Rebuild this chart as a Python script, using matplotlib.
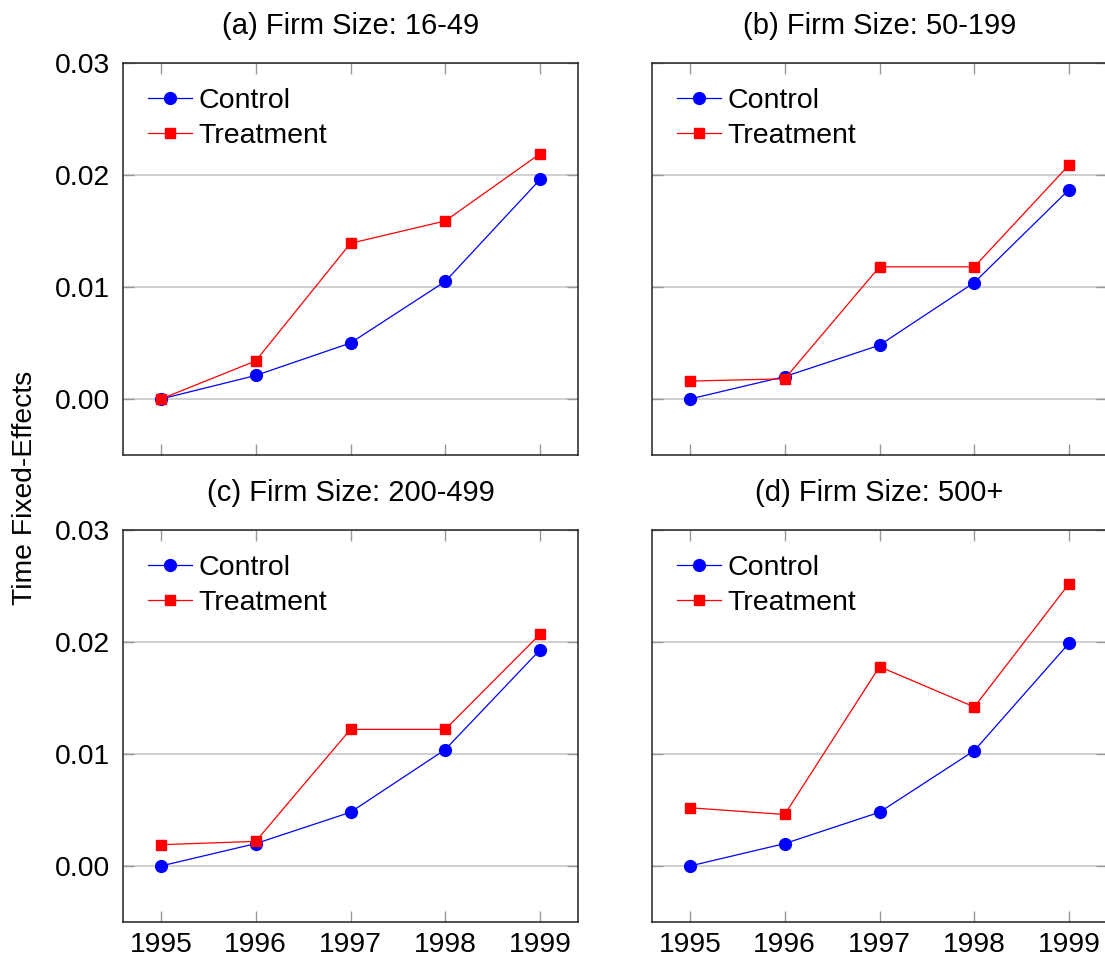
import matplotlib

matplotlib.use("Agg")
import matplotlib.pyplot as plt

plt.rcParams["font.family"] = ["Liberation Sans", "DejaVu Sans"]

years = [1995, 1996, 1997, 1998, 1999]

titles = [
    "(a) Firm Size: 16-49",
    "(b) Firm Size: 50-199",
    "(c) Firm Size: 200-499",
    "(d) Firm Size: 500+",
]

# time fixed effects by firm size group
control_16_49 = [0.0, 0.0021, 0.0050, 0.0105, 0.0196]
treatment_16_49 = [0.0, 0.0034, 0.0139, 0.0159, 0.0219]

control_50_199 = [0.0, 0.0020, 0.0048, 0.0104, 0.0187]
treatment_50_199 = [0.0016, 0.0018, 0.0118, 0.0118, 0.0209]

control_200_499 = [0.0, 0.0020, 0.0048, 0.0104, 0.0193]
treatment_200_499 = [0.0019, 0.0022, 0.0122, 0.0122, 0.0207]

control_500 = [0.0, 0.0020, 0.0048, 0.0103, 0.0199]
treatment_500 = [0.0052, 0.0046, 0.0178, 0.0142, 0.0252]

controls = [control_16_49, control_50_199, control_200_499, control_500]
treatments = [treatment_16_49, treatment_50_199, treatment_200_499, treatment_500]

yticks = [0.0, 0.01, 0.02, 0.03]
ytick_labels = ["0.00", "0.01", "0.02", "0.03"]

fig = plt.figure(figsize=(11.05, 9.57), dpi=100)

W, H = 1105, 957
ax_w, ax_h = 455, 392
lefts = [123, 652]
tops = [63, 530]

for i in range(4):
    row, col = divmod(i, 2)
    left = lefts[col]
    top = tops[row]
    ax = fig.add_axes([left / W, 1 - (top + ax_h) / H, ax_w / W, ax_h / H])

    ax.plot(
        years, controls[i], color="blue", lw=0.9, marker="o", ms=8.5,
        label="Control", zorder=3,
    )
    ax.plot(
        years, treatments[i], color="red", lw=0.9, marker="s", ms=7.8,
        label="Treatment", zorder=4,
    )

    ax.set_xlim(1994.6, 1999.4)
    ax.set_ylim(-0.005, 0.03)
    ax.set_xticks(years)
    ax.set_yticks(yticks)
    ax.grid(axis="y", color="#c8c8c8", lw=1.2)
    ax.set_axisbelow(True)

    ax.tick_params(
        direction="in", length=8, width=1.0, color="#999999", labelsize=20.3,
        pad=9, top=True, right=True,
    )
    ax.tick_params(axis="x", pad=7)
    if row == 1:
        ax.set_xticklabels([str(y) for y in years])
    else:
        ax.set_xticklabels([])
    if col == 0:
        ax.set_yticklabels(ytick_labels)
    else:
        ax.set_yticklabels([])

    for s in ax.spines.values():
        s.set_color("#222222")
        s.set_linewidth(1.1)

    ax.set_title(titles[i], fontsize=21, pad=21)

    ax.legend(
        loc="upper left", bbox_to_anchor=(0.054, 0.936), frameon=False,
        fontsize=20.5, handlelength=1.55, handletextpad=0.25,
        labelspacing=0.3, borderpad=0, borderaxespad=0,
    )

fig.text(0.023, 1 - 488 / H, "Time Fixed-Effects", rotation=90,
         ha="center", va="center", fontsize=20.3)

fig.savefig("out.png", dpi=100)
